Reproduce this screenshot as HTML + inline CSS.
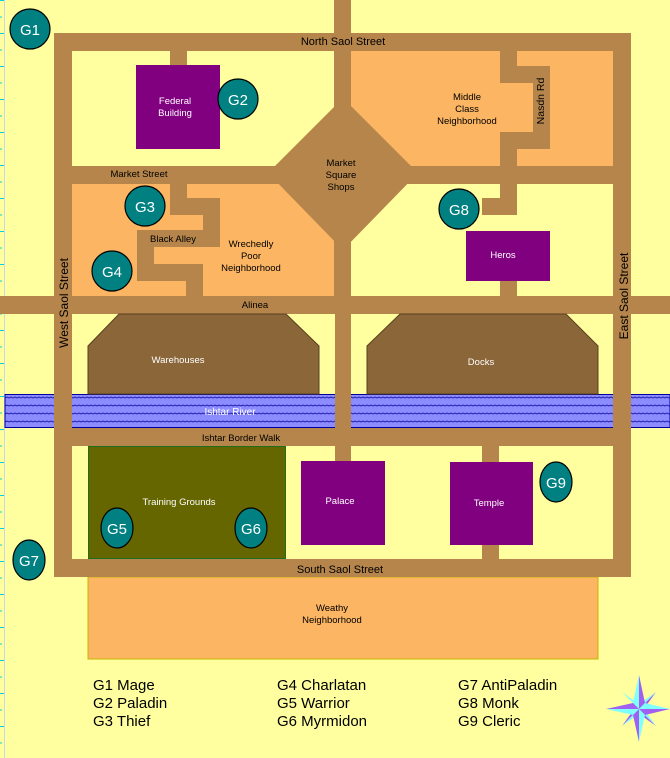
<!DOCTYPE html>
<html><head><meta charset="utf-8"><style>
html,body{margin:0;padding:0;background:#FFFFA0;}
svg{display:block;}
text{font-family:"Liberation Sans",sans-serif;}
</style></head><body>
<svg width="670" height="758" viewBox="0 0 670 758" xmlns="http://www.w3.org/2000/svg">
<defs>
<pattern id="wave" x="5" y="394" width="8" height="8" patternUnits="userSpaceOnUse">
<rect width="8" height="8" fill="#8C8CFF"/>
<path d="M0 4 L2 3 L4 4 L6 3 L8 4" stroke="#2020B0" stroke-width="1" fill="none"/>
</pattern>
</defs>
<rect width="670" height="758" fill="#FFFFA0"/>
<!-- ruler -->
<line x1="4.5" y1="0" x2="4.5" y2="758" stroke="#C8D8E8" stroke-width="1"/>
<g stroke="#00D0E0" stroke-width="1">
<line x1="0" y1="0.5" x2="4" y2="0.5"/><line x1="0" y1="33.5" x2="4" y2="33.5"/><line x1="0" y1="66.5" x2="4" y2="66.5"/><line x1="0" y1="99.5" x2="4" y2="99.5"/><line x1="0" y1="132.5" x2="4" y2="132.5"/><line x1="0" y1="165.5" x2="4" y2="165.5"/><line x1="0" y1="198.5" x2="4" y2="198.5"/><line x1="0" y1="231.5" x2="4" y2="231.5"/><line x1="0" y1="264.5" x2="4" y2="264.5"/><line x1="0" y1="297.5" x2="4" y2="297.5"/><line x1="0" y1="330.5" x2="4" y2="330.5"/><line x1="0" y1="363.5" x2="4" y2="363.5"/><line x1="0" y1="396.5" x2="4" y2="396.5"/><line x1="0" y1="429.5" x2="4" y2="429.5"/><line x1="0" y1="462.5" x2="4" y2="462.5"/><line x1="0" y1="495.5" x2="4" y2="495.5"/><line x1="0" y1="528.5" x2="4" y2="528.5"/><line x1="0" y1="561.5" x2="4" y2="561.5"/><line x1="0" y1="594.5" x2="4" y2="594.5"/><line x1="0" y1="627.5" x2="4" y2="627.5"/><line x1="0" y1="660.5" x2="4" y2="660.5"/><line x1="0" y1="693.5" x2="4" y2="693.5"/><line x1="0" y1="726.5" x2="4" y2="726.5"/>
<line x1="0" y1="17" x2="2" y2="17"/><line x1="0" y1="50" x2="2" y2="50"/><line x1="0" y1="83" x2="2" y2="83"/><line x1="0" y1="116" x2="2" y2="116"/><line x1="0" y1="149" x2="2" y2="149"/><line x1="0" y1="182" x2="2" y2="182"/><line x1="0" y1="215" x2="2" y2="215"/><line x1="0" y1="248" x2="2" y2="248"/><line x1="0" y1="281" x2="2" y2="281"/><line x1="0" y1="314" x2="2" y2="314"/><line x1="0" y1="347" x2="2" y2="347"/><line x1="0" y1="380" x2="2" y2="380"/><line x1="0" y1="413" x2="2" y2="413"/><line x1="0" y1="446" x2="2" y2="446"/><line x1="0" y1="479" x2="2" y2="479"/><line x1="0" y1="512" x2="2" y2="512"/><line x1="0" y1="545" x2="2" y2="545"/><line x1="0" y1="578" x2="2" y2="578"/><line x1="0" y1="611" x2="2" y2="611"/><line x1="0" y1="644" x2="2" y2="644"/><line x1="0" y1="677" x2="2" y2="677"/><line x1="0" y1="710" x2="2" y2="710"/><line x1="0" y1="743" x2="2" y2="743"/>
</g>

<!-- neighborhoods -->
<rect x="351" y="51" width="262" height="115" fill="#FBB563"/>
<rect x="72" y="184" width="263" height="112" fill="#FBB563"/>
<rect x="88" y="577" width="510" height="82" fill="#FBB563" stroke="#C8B400" stroke-width="1"/>

<!-- roads -->
<g fill="#B5854B">
<rect x="54" y="33" width="577" height="18"/>
<rect x="54" y="33" width="18" height="544"/>
<rect x="613" y="33" width="18" height="544"/>
<rect x="54" y="559" width="577" height="18"/>
<rect x="334" y="0" width="17" height="296"/>
<rect x="72" y="166" width="541" height="18"/>
<rect x="0" y="296" width="670" height="18"/>
<rect x="54" y="428" width="577" height="18"/>
<rect x="335" y="314" width="16" height="80"/>
<polygon points="343,98 418,173 343,250 268,173"/>
<!-- Nasdn Rd -->
<rect x="500" y="51" width="17" height="32"/>
<rect x="500" y="66" width="50" height="17"/>
<rect x="533" y="66" width="17" height="83"/>
<rect x="500" y="132" width="50" height="17"/>
<rect x="500" y="132" width="17" height="34"/>
<!-- G8 stub -->
<rect x="500" y="184" width="17" height="31"/>
<rect x="482" y="198" width="35" height="17"/>
<rect x="500" y="281" width="17" height="15"/>
<!-- Federal stub -->
<rect x="170" y="51" width="17" height="14"/>
<!-- Black Alley -->
<rect x="170" y="184" width="17" height="31"/>
<rect x="170" y="198" width="50" height="17"/>
<rect x="203" y="198" width="17" height="49"/>
<rect x="137" y="230" width="83" height="17"/>
<rect x="137" y="230" width="17" height="51"/>
<rect x="137" y="264" width="66" height="17"/>
<rect x="186" y="264" width="17" height="32"/>
<!-- bottom stubs -->
<rect x="335" y="446" width="16" height="15"/>
<rect x="482" y="446" width="17" height="16"/>
<rect x="482" y="545" width="17" height="14"/>
</g>

<!-- river -->
<rect x="5" y="394.5" width="665" height="33" fill="url(#wave)" stroke="#0000A0" stroke-width="1"/>
<g fill="#B5854B">
<rect x="54" y="394" width="18" height="34"/>
<rect x="335" y="394" width="16" height="34"/>
<rect x="613" y="394" width="18" height="34"/>
</g>

<!-- warehouses / docks -->
<polygon points="119,314 286,314 319,346 319,394 88,394 88,346" fill="#8A6639" stroke="#5A4020" stroke-width="1"/>
<polygon points="400,314 566,314 598,346 598,394 367,394 367,346" fill="#8A6639" stroke="#5A4020" stroke-width="1"/>

<!-- buildings -->
<rect x="136" y="65" width="84" height="84" fill="#800080"/>
<rect x="466" y="231" width="84" height="50" fill="#800080"/>
<rect x="88.5" y="446.5" width="197" height="112" fill="#666600" stroke="#1E6E1E" stroke-width="1"/>
<rect x="301" y="461" width="84" height="84" fill="#800080"/>
<rect x="450" y="462" width="83" height="83" fill="#800080"/>

<!-- labels -->
<g font-size="11" fill="#000" text-anchor="middle">
<text x="343" y="45">North Saol Street</text>
<text x="340" y="573">South Saol Street</text>
<text x="139" y="177" font-size="9.5">Market Street</text>
<text x="173" y="242" font-size="9.5">Black Alley</text>
<text x="255" y="308" font-size="9.5">Alinea</text>
<text x="241" y="441" font-size="9.5">Ishtar Border Walk</text>
<text x="251" y="247" font-size="9.5">Wrechedly</text>
<text x="251" y="259" font-size="9.5">Poor</text>
<text x="251" y="271" font-size="9.5">Neighborhood</text>
<text x="467" y="100" font-size="9.5">Middle</text>
<text x="467" y="112" font-size="9.5">Class</text>
<text x="467" y="124" font-size="9.5">Neighborhood</text>
<text x="341" y="166" font-size="9.5">Market</text>
<text x="341" y="178" font-size="9.5">Square</text>
<text x="341" y="190" font-size="9.5">Shops</text>
<text x="332" y="611" font-size="9.5">Weathy</text>
<text x="332" y="623" font-size="9.5">Neighborhood</text>
<text transform="translate(544,101) rotate(-90)" font-size="10.5">Nasdn Rd</text>
<text transform="translate(68,303) rotate(-90)" font-size="12">West Saol Street</text>
<text transform="translate(628,296) rotate(-90)" font-size="12">East Saol Street</text>
</g>
<g font-size="9.5" fill="#fff" text-anchor="middle">
<text x="175" y="104">Federal</text>
<text x="175" y="116">Building</text>
<text x="503" y="258">Heros</text>
<text x="178" y="363">Warehouses</text>
<text x="481" y="365">Docks</text>
<text x="230" y="415" font-size="10">Ishtar River</text>
<text x="179" y="505">Training Grounds</text>
<text x="340" y="504">Palace</text>
<text x="489" y="506">Temple</text>
</g>

<!-- G circles -->
<g fill="#008080" stroke="#000" stroke-width="1.2">
<circle cx="30" cy="29" r="20"/>
<circle cx="238" cy="99" r="20"/>
<circle cx="145" cy="206" r="20"/>
<circle cx="112" cy="271" r="20"/>
<circle cx="459" cy="209" r="20"/>
<ellipse cx="117" cy="528" rx="16" ry="20"/>
<ellipse cx="251" cy="528" rx="16" ry="20"/>
<ellipse cx="29" cy="560" rx="16" ry="20"/>
<ellipse cx="556" cy="482" rx="16" ry="20"/>
</g>
<g font-size="15" fill="#fff" text-anchor="middle">
<text x="30" y="35">G1</text>
<text x="238" y="105">G2</text>
<text x="145" y="212">G3</text>
<text x="112" y="277">G4</text>
<text x="459" y="215">G8</text>
<text x="117" y="534">G5</text>
<text x="251" y="534">G6</text>
<text x="29" y="566">G7</text>
<text x="556" y="488">G9</text>
</g>

<!-- legend -->
<g font-size="15" fill="#000">
<text x="93" y="690">G1 Mage</text>
<text x="93" y="708">G2 Paladin</text>
<text x="93" y="726">G3 Thief</text>
<text x="277" y="690">G4 Charlatan</text>
<text x="277" y="708">G5 Warrior</text>
<text x="277" y="726">G6 Myrmidon</text>
<text x="458" y="690">G7 AntiPaladin</text>
<text x="458" y="708">G8 Monk</text>
<text x="458" y="726">G9 Cleric</text>
</g>

<!-- compass -->
<g transform="translate(639,709)">
<polygon points="0,0 -17,-17 -5,-5" fill="#A060F0"/>
<polygon points="0,0 -17,-17 -3,-7" fill="#80FFFF"/>
<polygon points="0,0 17,-17 7,-3" fill="#A060F0"/>
<polygon points="0,0 17,-17 3,-7" fill="#80FFFF"/>
<polygon points="0,0 17,17 3,7" fill="#A060F0"/>
<polygon points="0,0 17,17 7,3" fill="#80FFFF"/>
<polygon points="0,0 -17,17 -7,3" fill="#A060F0"/>
<polygon points="0,0 -17,17 -3,7" fill="#80FFFF"/>
<polygon points="0,-34 0,0 -6,-6" fill="#80FFFF"/>
<polygon points="0,-34 0,0 6,-6" fill="#A060F0"/>
<polygon points="31,0 0,0 6,-6" fill="#80FFFF"/>
<polygon points="31,0 0,0 6,6" fill="#A060F0"/>
<polygon points="0,33 0,0 6,6" fill="#80FFFF"/>
<polygon points="0,33 0,0 -6,6" fill="#A060F0"/>
<polygon points="-33,0 0,0 -6,6" fill="#80FFFF"/>
<polygon points="-33,0 0,0 -6,-6" fill="#A060F0"/>
</g>
</svg>
</body></html>
